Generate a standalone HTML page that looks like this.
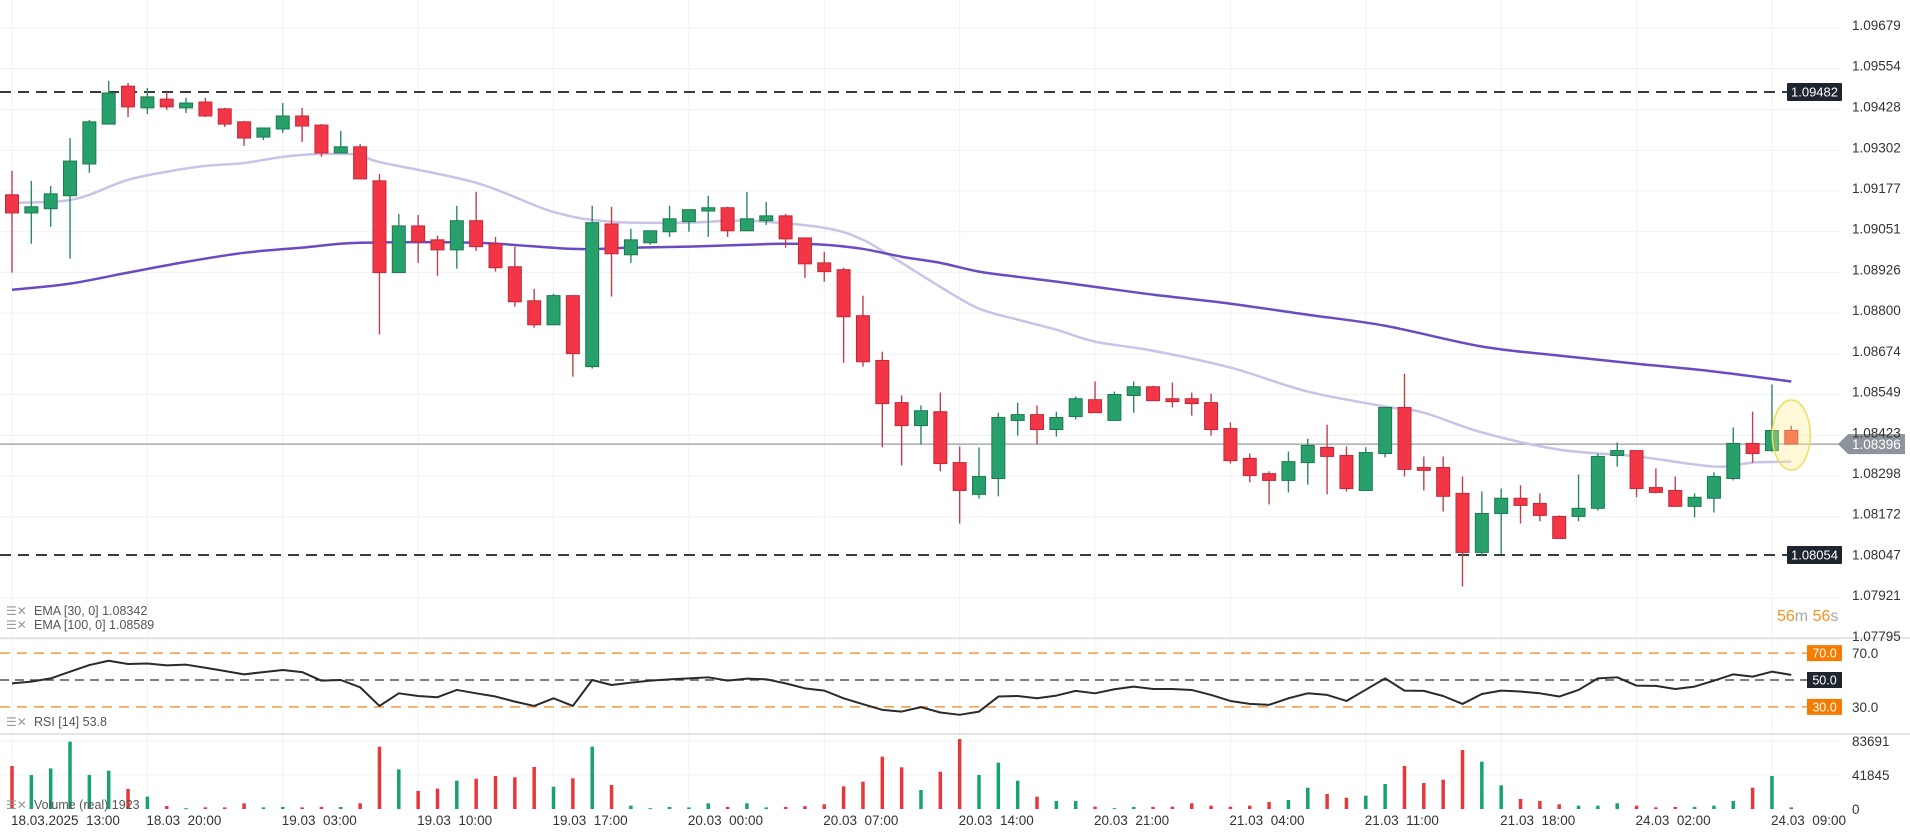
<!DOCTYPE html>
<html><head><meta charset="utf-8"><style>
html,body{margin:0;padding:0;background:#fff;}
svg{display:block;font-family:"Liberation Sans",sans-serif;}
text{white-space:pre;}
</style></head><body>
<svg id="chart" width="1910" height="837" viewBox="0 0 1910 837" xmlns="http://www.w3.org/2000/svg">
<g id="grid"></g>
<g id="vol"></g>
<g id="rsi"></g>
<g id="main"></g>
<g id="axis"></g>
<g id="legend">
  <text x="6" y="615" font-size="12" fill="#999">☰✕</text>
  <text x="34" y="615" font-size="12.5" fill="#555">EMA [30, 0] 1.08342</text>
  <text x="6" y="629" font-size="12" fill="#999">☰✕</text>
  <text x="34" y="629" font-size="12.5" fill="#555">EMA [100, 0] 1.08589</text>
  <text x="6" y="726" font-size="12" fill="#999">☰✕</text>
  <text x="34" y="726" font-size="12.5" fill="#555">RSI [14] 53.8</text>
  <text x="6" y="809" font-size="12" fill="#999">☰✕</text>
  <text x="34" y="809" font-size="12.5" fill="#555">Volume (real) 1923</text>
  <text x="1777" y="621" font-size="16"><tspan fill="#f7931a">56</tspan><tspan fill="#aaa">m </tspan><tspan fill="#f7931a">56</tspan><tspan fill="#aaa">s</tspan></text>
</g>
</svg>
<script>
const candleOpen=[1.09165,1.09109,1.09122,1.09162,1.09260,1.09383,1.09500,1.09433,1.09460,1.09433,
1.09451,1.09430,1.09390,1.09343,1.09368,1.09408,1.09380,1.09294,1.09313,1.09208,
1.08925,1.09069,1.09026,1.08995,1.09085,1.09014,1.08943,1.08838,1.08764,1.08854,
1.08635,1.09075,1.08980,1.09017,1.09051,1.09082,1.09115,1.09125,1.09054,1.09085,
1.09100,1.09032,1.08955,1.08934,1.08792,1.08654,1.08524,1.08453,1.08496,1.08339,
1.08241,1.08290,1.08469,1.08487,1.08441,1.08481,1.08533,1.08469,1.08546,1.08573,
1.08536,1.08536,1.08524,1.08444,1.08352,1.08305,1.08284,1.08339,1.08386,1.08361,
1.08253,1.08367,1.08509,1.08324,1.08324,1.08244,1.08062,1.08182,1.08229,1.08213,
1.08173,1.08173,1.08198,1.08361,1.08376,1.08262,1.08253,1.08204,1.08229,1.08290,
1.08398,1.08376,1.08438];
const candleHigh=[1.09239,1.09208,1.09192,1.09340,1.09396,1.09516,1.09510,1.09494,1.09482,1.09464,
1.09464,1.09433,1.09393,1.09371,1.09448,1.09433,1.09383,1.09362,1.09322,1.09229,
1.09106,1.09103,1.09039,1.09131,1.09174,1.09035,1.09005,1.08875,1.08860,1.08854,
1.09131,1.09128,1.09060,1.09054,1.09131,1.09119,1.09162,1.09128,1.09174,1.09143,
1.09106,1.09032,1.08989,1.08940,1.08854,1.08681,1.08546,1.08515,1.08555,1.08389,
1.08386,1.08493,1.08524,1.08515,1.08496,1.08543,1.08589,1.08558,1.08589,1.08576,
1.08586,1.08555,1.08552,1.08463,1.08367,1.08312,1.08373,1.08413,1.08456,1.08389,
1.08386,1.08509,1.08613,1.08358,1.08358,1.08296,1.08250,1.08259,1.08269,1.08244,
1.08176,1.08302,1.08367,1.08401,1.08376,1.08321,1.08296,1.08244,1.08309,1.08447,
1.08496,1.08580,1.08453];
const candleLow=[1.08925,1.09014,1.09066,1.08968,1.09233,1.09383,1.09405,1.09414,1.09427,1.09417,
1.09405,1.09374,1.09316,1.09334,1.09356,1.09328,1.09282,1.09294,1.09214,1.08734,
1.08925,1.08955,1.08915,1.08937,1.08992,1.08928,1.08820,1.08755,1.08764,1.08604,
1.08629,1.08851,1.08955,1.09011,1.09035,1.09051,1.09035,1.09035,1.09054,1.09072,
1.09002,1.08909,1.08897,1.08647,1.08635,1.08386,1.08330,1.08395,1.08312,1.08151,
1.08228,1.08235,1.08422,1.08395,1.08419,1.08472,1.08493,1.08469,1.08493,1.08530,
1.08509,1.08484,1.08422,1.08336,1.08278,1.08210,1.08247,1.08271,1.08241,1.08250,
1.08253,1.08355,1.08296,1.08253,1.08188,1.07957,1.08050,1.08056,1.08151,1.08158,
1.08105,1.08158,1.08191,1.08327,1.08232,1.08244,1.08204,1.08170,1.08185,1.08284,
1.08339,1.08373,1.08404];
const candleClose=[1.09109,1.09128,1.09168,1.09269,1.09390,1.09479,1.09436,1.09467,1.09436,1.09448,
1.09408,1.09383,1.09340,1.09371,1.09408,1.09377,1.09294,1.09313,1.09214,1.08925,
1.09069,1.09020,1.08995,1.09085,1.09005,1.08940,1.08835,1.08764,1.08854,1.08675,
1.09079,1.08983,1.09026,1.09054,1.09091,1.09119,1.09125,1.09054,1.09091,1.09100,
1.09029,1.08952,1.08928,1.08789,1.08650,1.08521,1.08453,1.08499,1.08336,1.08253,
1.08296,1.08478,1.08487,1.08441,1.08478,1.08536,1.08493,1.08549,1.08573,1.08530,
1.08527,1.08521,1.08441,1.08345,1.08299,1.08284,1.08342,1.08392,1.08358,1.08259,
1.08370,1.08509,1.08318,1.08315,1.08235,1.08062,1.08182,1.08229,1.08207,1.08176,
1.08105,1.08198,1.08358,1.08376,1.08259,1.08247,1.08204,1.08232,1.08296,1.08398,
1.08367,1.08438,1.08396];
const volumeValues=[52900,41800,50000,82800,41800,47100,24600,15200,3700,1000,
2000,2000,7000,2000,2500,2000,2500,2500,7000,76700,
48800,22200,25000,34800,37300,40600,39000,51700,27400,37800,
76700,29500,4100,1000,2500,2000,7000,2500,7000,2000,
2500,3500,5800,27900,33600,64400,51300,23400,45900,86100,
41800,57000,34800,15200,9800,9800,2900,1000,2500,2500,
2900,7000,4100,2900,4100,8600,11100,26200,18500,13900,
16400,30800,52900,32000,36100,72600,58200,29200,12300,9800,
5800,4100,4100,7000,4100,2000,2500,2500,4100,9800,
26200,40600,1923];
const rsiValues=[47.5,48.8,51.2,56.2,61.1,64.3,61.9,62.3,60.9,61.4,
59.1,56.7,54.2,55.9,57.4,55.9,49.5,50.0,44.6,30.7,
40.1,38.1,37.2,42.6,40.1,37.7,33.9,30.7,36.4,30.7,
50.0,46.3,48.0,49.5,50.5,51.2,52.0,49.5,51.0,50.5,
47.5,43.8,42.1,36.4,32.0,27.8,26.5,29.8,25.8,24.1,
26.5,37.7,38.1,36.4,38.4,41.9,40.1,43.1,45.1,43.3,
43.3,42.6,38.9,34.4,32.2,31.5,36.4,40.1,38.9,34.4,
42.8,51.2,42.1,41.9,38.1,32.2,39.6,42.1,41.4,40.1,
37.7,42.6,51.2,52.0,45.8,45.6,43.3,45.1,49.5,54.2,
52.5,56.2,53.8];
const ema30Index=[0,2,3,4,6,8,10,12,14,16,18,19,24,28,31,35,38,42,44,46,48,50,52,54,56,59,63,67,71,73,76,80,84,88,90,92];
const ema30Values=[1.09140,1.09143,1.09149,1.09165,1.09211,1.09236,1.09254,1.09263,1.09282,1.09291,1.09288,1.09266,1.09202,1.09112,1.09082,1.09079,1.09085,1.09063,1.09026,1.08955,1.08881,1.08814,1.08780,1.08749,1.08712,1.08684,1.08632,1.08558,1.08512,1.08493,1.08432,1.08379,1.08358,1.08327,1.08339,1.08342];
const ema100Index=[0,3,6,9,12,15,18,24,29,32,35,38,40,42,44,46,48,50,52,54,56,59,63,67,71,76,80,84,88,92];
const ema100Values=[1.08872,1.08891,1.08925,1.08958,1.08986,1.09002,1.09017,1.09017,1.08998,1.09002,1.09005,1.09011,1.09014,1.09011,1.08998,1.08974,1.08955,1.08928,1.08912,1.08897,1.08881,1.08857,1.08829,1.08795,1.08761,1.08697,1.08669,1.08644,1.08620,1.08589];
const priceTicks=[1.09679,1.09554,1.09428,1.09302,1.09177,1.09051,1.08926,1.08800,1.08674,1.08549,1.08423,1.08298,1.08172,1.08047,1.07921,1.07795];
const timeLabels=["18.03.2025  13:00","18.03  20:00","19.03  03:00","19.03  10:00","19.03  17:00","20.03  00:00","20.03  07:00","20.03  14:00","20.03  21:00","21.03  04:00","21.03  11:00","21.03  18:00","24.03  02:00","24.03  09:00"];
const timeLabelIndex=[0,7,14,21,28,35,42,49,56,63,70,77,84,91];
const levelLines=[1.09482,1.08054];
const currentPrice=1.08396;
const rsiLevels=[70,50,30];
const volumeTicks=[83691,41845,0];

const NS="http://www.w3.org/2000/svg";
const xC=i=>12+i*19.34;
const yP=p=>92+(1.09482-p)*32423;
const yR=r=>680-(r-50)*1.344;
const yV=v=>809-v/83691*68;
function mk(tag,attrs,parent){const e=document.createElementNS(NS,tag);for(const k in attrs)e.setAttribute(k,attrs[k]);parent.appendChild(e);return e;}
const G=document.getElementById('grid'),M=document.getElementById('main'),R=document.getElementById('rsi'),V=document.getElementById('vol'),A=document.getElementById('axis');

// grid
priceTicks.forEach(p=>{const l=mk('line',{x1:0,x2:1840,y1:yP(p),y2:yP(p),stroke:'#f0f1f4','stroke-width':1},G);

});
timeLabelIndex.forEach(i=>{const l=mk('line',{x1:xC(i),x2:xC(i),y1:0,y2:812,stroke:'#f0f1f4','stroke-width':1},G);

});
[41845,83691].forEach(v=>{const l=mk('line',{x1:0,x2:1840,y1:yV(v),y2:yV(v),stroke:'#f0f1f4','stroke-width':1},G);

});
// pane separators
[638,734].forEach(y=>{const l=mk('line',{x1:0,x2:1910,y1:y,y2:y,stroke:'#e3e4e8','stroke-width':2},G);

});

// level lines
levelLines.forEach(p=>{const l=mk('line',{x1:0,x2:1787,y1:yP(p),y2:yP(p),stroke:'#3a3a3a','stroke-width':2,'stroke-dasharray':'11 7'},M);


const b=mk('rect',{x:1787,y:yP(p)-9,width:55,height:18,fill:'#1f252e',rx:1},M);


const t=mk('text',{x:1814.5,y:yP(p)+4.5,'font-size':13,fill:'#fff','text-anchor':'middle'},M);t.textContent=p.toFixed(5);

});

// current price line
const cl=mk('line',{x1:0,x2:1840,y1:yP(currentPrice),y2:yP(currentPrice),stroke:'#9a9a9a','stroke-width':1.2},M);



// EMAs
function smooth(pts){let d='M'+pts[0][0]+','+pts[0][1];for(let k=0;k<pts.length-1;k++){const p0=pts[Math.max(0,k-1)],p1=pts[k],p2=pts[k+1],p3=pts[Math.min(pts.length-1,k+2)];
const c1x=p1[0]+(p2[0]-p0[0])/6,c1y=p1[1]+(p2[1]-p0[1])/6,c2x=p2[0]-(p3[0]-p1[0])/6,c2y=p2[1]-(p3[1]-p1[1])/6;d+=' C'+c1x+','+c1y+' '+c2x+','+c2y+' '+p2[0]+','+p2[1];}return d;}
const e30=mk('path',{d:smooth(ema30Index.map((i,k)=>[xC(i),yP(ema30Values[k])])),fill:'none',stroke:'#cbc3e6','stroke-width':2.5},M);


const e100=mk('path',{d:smooth(ema100Index.map((i,k)=>[xC(i),yP(ema100Values[k])])),fill:'none',stroke:'#6a4bc4','stroke-width':2.5},M);



// candles
for(let i=0;i<candleOpen.length;i++){
 const up=candleClose[i]>=candleOpen[i];
 const body=up?'#27a06c':'#f23645',edge=up?'#1b7a50':'#c4283a',wickC=up?'#2a8a60':'#c0404a';
 const x=xC(i);
 const w=mk('line',{x1:x,x2:x,y1:yP(candleHigh[i]),y2:yP(candleLow[i]),stroke:wickC,'stroke-width':1.4},M);
 
 
 const top=yP(Math.max(candleOpen[i],candleClose[i])),bot=yP(Math.min(candleOpen[i],candleClose[i]));
 const r=mk('rect',{x:x-6.5,y:top,width:13,height:Math.max(1.5,bot-top),fill:(i==candleOpen.length-1&&!up)?'#f4473c':body,stroke:edge,'stroke-width':1},M);
 
 
}
// highlight
const hl=mk('ellipse',{cx:xC(92),cy:435,rx:19,ry:35,fill:'rgba(255,238,140,0.35)',stroke:'#f0dc60','stroke-width':1.5},M);



// current price tag
const ct=mk('path',{d:`M1838,${yP(currentPrice)} L1848,${yP(currentPrice)-10} L1905,${yP(currentPrice)-10} L1905,${yP(currentPrice)+10} L1848,${yP(currentPrice)+10} Z`,fill:'#8e949c'},A);



// price axis labels
priceTicks.forEach(p=>{const t=mk('text',{x:1852,y:yP(p)+2,'font-size':13.5,fill:'#333'},A);t.textContent=p.toFixed(5);

});
const ctt=mk('text',{x:1852,y:yP(currentPrice)+5,'font-size':13.5,fill:'#fff'},A);ctt.textContent=currentPrice.toFixed(5);



// time labels
timeLabels.forEach((s,k)=>{const t=mk('text',{x:xC(timeLabelIndex[k])-1,y:825,'font-size':13.5,fill:'#333'},A);t.textContent=s;

});

// RSI levels
rsiLevels.forEach(r=>{const mid=r===50;
 const l=mk('line',{x1:0,x2:1807,y1:yR(r),y2:yR(r),stroke:mid?'#555':'#f29a45','stroke-width':1.5,'stroke-dasharray':mid?'9 6':'10 7'},R);
 
 
 const b=mk('rect',{x:1807,y:yR(r)-8,width:35,height:16,fill:mid?'#1f252e':'#f57c00'},R);
 
 
 const t=mk('text',{x:1824.5,y:yR(r)+4.5,'font-size':12.5,fill:'#fff','text-anchor':'middle'},R);t.textContent=r.toFixed(1);
 
 
 if(!mid){const a=mk('text',{x:1852,y:yR(r)+5,'font-size':13.5,fill:'#333'},A);a.textContent=r.toFixed(1);
 
 }
});
const rl=mk('polyline',{points:rsiValues.map((r,i)=>xC(i)+','+yR(r)).join(' '),fill:'none',stroke:'#2a2a2a','stroke-width':2,'stroke-linejoin':'round'},R);



// volume
volumeValues.forEach((v,i)=>{const up=candleClose[i]>=candleOpen[i];
 const b=mk('rect',{x:xC(i)-1.75,y:yV(v),width:3.5,height:Math.max(1,809-yV(v)),fill:up?'#14a46c':'#e5383b'},V);
 
 });
volumeTicks.forEach(v=>{const t=mk('text',{x:1852,y:yV(v)+5,'font-size':13.5,fill:'#333'},A);t.textContent=String(v);
 
 });
</script>
</body></html>
